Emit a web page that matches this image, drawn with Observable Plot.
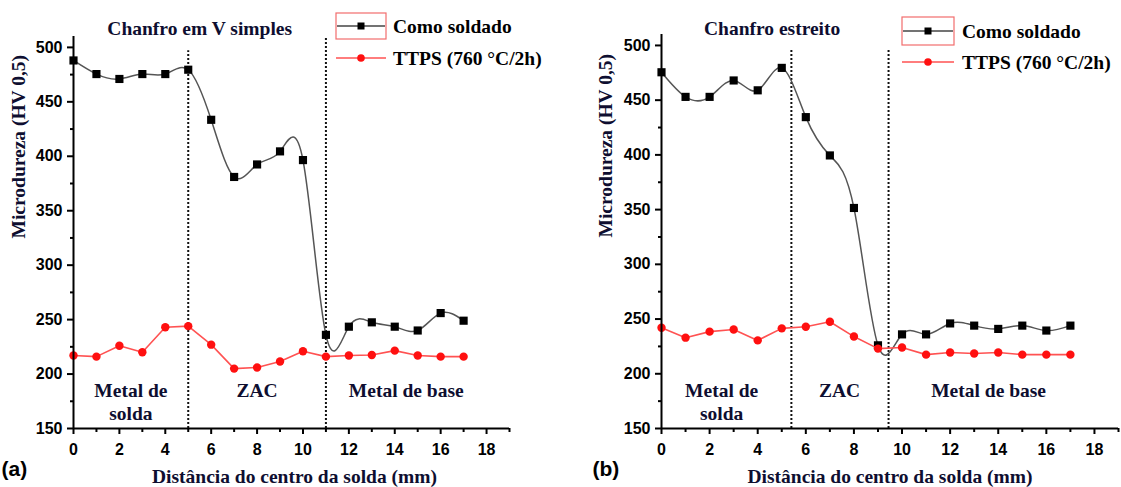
<!DOCTYPE html>
<html><head><meta charset="utf-8">
<script src="https://cdn.jsdelivr.net/npm/d3@7"></script>
<script src="https://cdn.jsdelivr.net/npm/@observablehq/plot@0.6"></script>
<style>
html,body{margin:0;padding:0;background:#fff;}
#chart{position:relative;width:1121px;height:487px;overflow:hidden;background:#fff;}
#chart > svg{position:absolute;top:0;}
#chart svg g[aria-label$="tick label"]{font-family:"Liberation Sans",Arial,sans-serif;font-weight:bold;font-size:16px;}
</style></head><body><div id="chart"></div>
<script>
// ---- data ----
const distance = [0,1,2,3,4,5,6,7,8,9,10,11,12,13,14,15,16,17];
const comoSoldadoA = [488,475.5,471,475.5,475.5,479.5,433.5,381,392.5,404.5,396.5,236,243.5,247.5,243.5,240,256,249];
const ttpsA        = [217,216,226,220,243,244,227,205,206,211.5,221,216,217,217.5,221.5,217,216,216];
const comoSoldadoB = [475.5,453,453,468,459,479.5,434.5,399.5,351.5,226,236,236,246,244,241,244,239.5,244];
const ttpsB        = [242,233,238.5,240.5,230.5,241.5,243,247.5,234,223,224,217.5,219.5,218.5,219.5,217.5,217.5,217.5];

const xTicks = [0,2,4,6,8,10,12,14,16,18];
const xMinorTicks = [1,3,5,7,9,11,13,15,17,19];
const yTicks = [150,200,250,300,350,400,450,500];
const yMinorTicks = [175,225,275,325,375,425,475];

const zoneBoundsA = [5, 11];
const zoneBoundsB = [5.4, 9.44];
const zoneBoundTopA = [497, 509];
const zoneBoundTopB = [497, 497];
const zoneLabels = ["Metal de\nsolda", "ZAC", "Metal de base"];
const zoneLabelXA = [2.5, 8, 14.5];
const zoneLabelXB = [2.5, 7.4, 13.6];

const titles = ["Chanfro em V simples", "Chanfro estreito"];
const titleX = [5.5, 4.6];
const seriesNames = ["Como soldado", "TTPS (760 °C/2h)"];
const panelLetters = ["(a)", "(b)"];
const xLabel = "Distância do centro da solda (mm)";
const yLabel = "Microdureza (HV 0,5)";

// ---- styling ----
const SERIF = "'Liberation Serif','Times New Roman',serif";
const SANS = "'Liberation Sans',Arial,sans-serif";
const NAVY = "#0e0e30";
const serifText = {fontFamily: SERIF, fontWeight: "bold", fontSize: 19.5, fill: NAVY};

function panel(cfg) {
  const rows = distance.map((d, i) => ({x: d, como: cfg.como[i], ttps: cfg.ttps[i]}));
  const bounds = cfg.bounds.map((b, i) => ({x: b, top: cfg.boundTop[i]}));
  const zones = zoneLabels.map((t, i) => ({t, x: cfg.zoneX[i]}));
  return Plot.plot({
    width: cfg.width, height: 487,
    marginLeft: cfg.ml, marginRight: cfg.mr, marginTop: cfg.mt, marginBottom: 59,
    style: {fontFamily: SERIF, fontSize: "16px", background: "transparent", overflow: "visible"},
    x: {domain: [0, 19]},
    y: {domain: [150, 510]},
    marks: [
      Plot.ruleX(bounds, {x: "x", y1: 150, y2: "top", stroke: "#111", strokeWidth: 2, strokeDasharray: "2,2"}),
      Plot.text(zones, {x: "x", y: 194, text: "t", lineAnchor: "top", lineHeight: 1.18, ...serifText}),
      Plot.line(rows, {x: "x", y: "como", curve: "natural", stroke: "#555", strokeWidth: 1.5}),
      Plot.dot(rows, {x: "x", y: "como", symbol: "square", r: 4.6, fill: "#000", stroke: "none"}),
      Plot.line(rows, {x: "x", y: "ttps", stroke: "#ff5252", strokeWidth: 1.6}),
      Plot.dot(rows, {x: "x", y: "ttps", r: 4.2, fill: "#ff1010", stroke: "none"}),
      Plot.ruleX([0], {y1: 150, y2: 510, stroke: "#000", strokeWidth: 2}),
      Plot.ruleY([150], {x1: 0, x2: 19, stroke: "#000", strokeWidth: 2}),
      Plot.axisX(xTicks, {tickSize: 6, tickPadding: 9, strokeWidth: 2, label: null, fontSize: 16, fontWeight: "bold", fontFamily: SANS, fill: "#000"}),
      Plot.axisX(xMinorTicks, {tickSize: 4, tickFormat: () => "", strokeWidth: 2, label: null}),
      Plot.axisY(yTicks, {tickSize: 6, tickPadding: 5, strokeWidth: 2, label: null, fontSize: 16, fontWeight: "bold", fontFamily: SANS, fill: "#000"}),
      Plot.axisY(yMinorTicks, {tickSize: 3, tickFormat: () => "", strokeWidth: 2, label: null}),
      Plot.text([cfg.title], {x: cfg.titleX, frameAnchor: "top", lineAnchor: "middle", dy: cfg.titleDy, ...serifText}),
      Plot.text([yLabel], {frameAnchor: "left", lineAnchor: "middle", rotate: -90, dx: cfg.yLabelDx, dy: 6, ...serifText}),
      Plot.text([xLabel], {frameAnchor: "bottom", lineAnchor: "middle", dx: cfg.xLabelDx, dy: 48, ...serifText}),
      Plot.text([cfg.letter], {frameAnchor: "bottom-left", lineAnchor: "middle", textAnchor: "start", dx: cfg.letterDx, dy: 41,
        fontFamily: SANS, fontWeight: "bold", fontSize: 21, fill: "#000"})
    ]
  });
}

const chart = document.getElementById("chart");
const pa = panel({como: comoSoldadoA, ttps: ttpsA, bounds: zoneBoundsA, boundTop: zoneBoundTopA, zoneX: zoneLabelXA,
  title: titles[0], titleX: titleX[0], titleDy: -8, letter: panelLetters[0],
  width: 560, ml: 73, mr: 51, mt: 36, yLabelDx: -55, xLabelDx: 3, letterDx: -72});
const pb = panel({como: comoSoldadoB, ttps: ttpsB, bounds: zoneBoundsB, boundTop: zoneBoundTopB, zoneX: zoneLabelXB,
  title: titles[1], titleX: titleX[1], titleDy: -6, letter: panelLetters[1],
  width: 561, ml: 101, mr: 3, mt: 34, yLabelDx: -56, xLabelDx: 0, letterDx: -69});
pa.style.left = "0px";
pb.style.left = "560px";
chart.append(pa, pb);

// ---- legends ----
const leg = d3.select(chart).append("svg")
  .attr("width", 1121).attr("height", 487)
  .style("position", "absolute").style("left", "0px").style("top", "0px").style("pointer-events", "none");
function legend(x0, y1, y2, w, h, tx) {
  const cx = x0 + w / 2;
  leg.append("rect").attr("x", x0).attr("y", y1 - h / 2).attr("width", w).attr("height", h)
    .attr("fill", "none").attr("stroke", "#f26d6d").attr("stroke-width", 1.2);
  leg.append("line").attr("x1", x0 + 1).attr("x2", x0 + w - 1).attr("y1", y1).attr("y2", y1)
    .attr("stroke", "#444").attr("stroke-width", 1.5);
  leg.append("rect").attr("x", cx - 3.5).attr("y", y1 - 3.5).attr("width", 7).attr("height", 7).attr("fill", "#000");
  leg.append("line").attr("x1", x0).attr("x2", x0 + w).attr("y1", y2).attr("y2", y2)
    .attr("stroke", "#ff5252").attr("stroke-width", 1.6);
  leg.append("circle").attr("cx", cx).attr("cy", y2).attr("r", 3.8).attr("fill", "#ff1010");
  [[seriesNames[0], y1], [seriesNames[1], y2]].forEach(([t, y]) => {
    leg.append("text").attr("x", tx).attr("y", y).attr("dy", "0.35em")
      .attr("font-family", SERIF).attr("font-weight", "bold").attr("font-size", 19.5).attr("fill", "#000").text(t);
  });
}
legend(336, 26, 58, 50, 26, 393);
legend(902, 31, 62, 52, 28, 962);
</script></body></html>
